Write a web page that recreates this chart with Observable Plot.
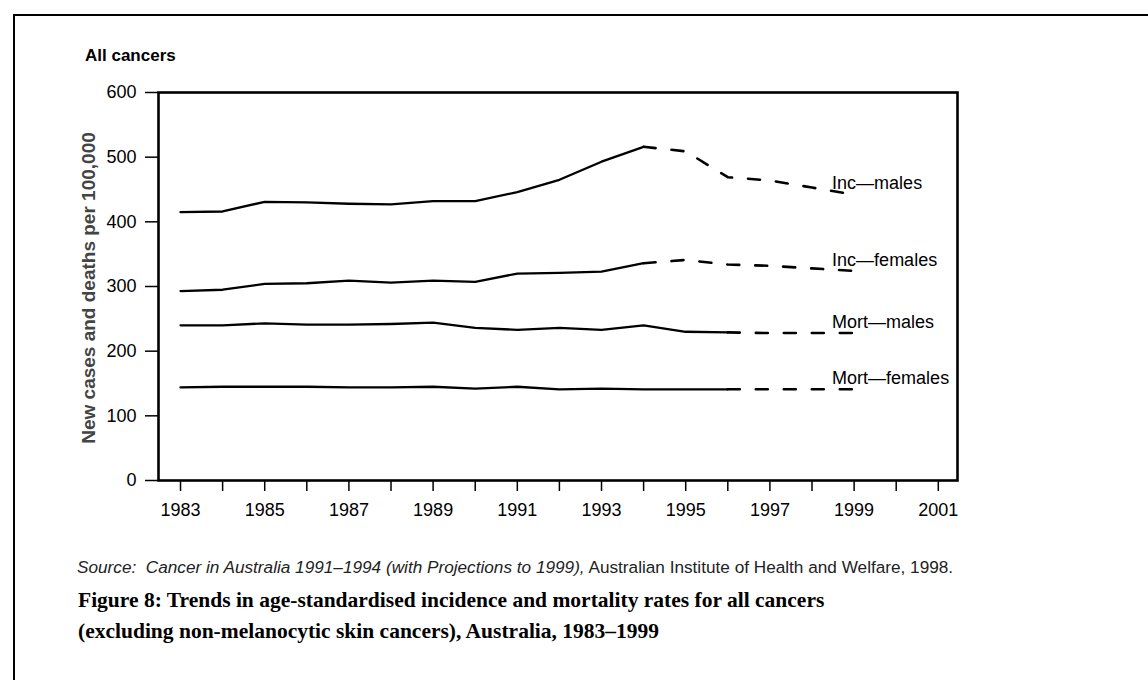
<!DOCTYPE html>
<html>
<head>
<meta charset="utf-8">
<script src="https://cdn.jsdelivr.net/npm/d3@7"></script>
<script src="https://cdn.jsdelivr.net/npm/@observablehq/plot@0.6"></script>
<style>
  body { margin: 0; background: #fff; }
  #wrap { position: relative; width: 1148px; height: 680px; overflow: hidden; background: #fff;
          font-family: "Liberation Sans", Arial, sans-serif; }
  #topline { position: absolute; left: 13px; top: 14px; width: 1135px; border-top: 2px solid #000; }
  #leftline { position: absolute; left: 13px; top: 14px; height: 666px; border-left: 2px solid #000; }
  #chart { position: absolute; left: 0; top: 0; }
  #subtitle { position: absolute; left: 85px; top: 47px; font-size: 17px; font-weight: bold; line-height: 1; color: #000; }
  #ytitle { position: absolute; left: 88px; top: 288px; transform: translate(-50%, -50%) rotate(-90deg);
            white-space: nowrap; font-size: 19px; font-weight: bold; color: #444; line-height: 1; }
  #source { position: absolute; left: 77px; top: 559px; font-size: 17.2px; color: #222; line-height: 1; white-space: nowrap; }
  #caption { position: absolute; left: 78px; top: 585px; width: 900px; font-family: "Liberation Serif", "Times New Roman", serif;
             font-weight: bold; font-size: 21.5px; line-height: 31px; color: #000; }
</style>
</head>
<body>
<div id="wrap">
  <div id="topline"></div>
  <div id="leftline"></div>
  <div id="chart"></div>
  <div id="subtitle">All cancers</div>
  <div id="ytitle">New cases and deaths per 100,000</div>
  <div id="source"><i>Source:&nbsp; Cancer in Australia 1991–1994 (with Projections to 1999),</i> Australian Institute of Health and Welfare, 1998.</div>
  <div id="caption">Figure 8: Trends in age-standardised incidence and mortality rates for all cancers<br>(excluding non-melanocytic skin cancers), Australia, 1983–1999</div>
</div>
<script>
// ---- data ----
const years = [1983,1984,1985,1986,1987,1988,1989,1990,1991,1992,1993,1994,1995,1996,1997,1998,1999];
const incMales    = [415,416,431,430,428,427,432,432,446,465,493,516,509,469,464,453,442];
const incFemales  = [293,295,304,305,309,306,309,307,320,321,323,336,341,334,332,328,324];
const mortMales   = [240,240,243,241,241,242,244,236,233,236,233,240,230,229,228,228,228];
const mortFemales = [144,145,145,145,144,144,145,142,145,141,142,141,141,141,141,141,141];
const seriesNames = ["Inc—males","Inc—females","Mort—males","Mort—females"];
const lastObserved = [1994,1994,1996,1996];
const yTicks = [0,100,200,300,400,500,600];
const xTicks = [1983,1984,1985,1986,1987,1988,1989,1990,1991,1992,1993,1994,1995,1996,1997,1998,1999,2000,2001];

// ---- table ----
const seriesValues = [incMales, incFemales, mortMales, mortFemales];
const rows = [];
seriesNames.forEach((s, i) => {
  years.forEach((yr, j) => rows.push({series: s, year: yr, value: seriesValues[i][j], last: lastObserved[i]}));
});
const observed = rows.filter(d => d.year <= d.last);
const projected = rows.filter(d => d.year >= d.last);
const lastYear = years[years.length - 1];
const ends = rows.filter(d => d.year === lastYear);

const chart = Plot.plot({
  width: 1148,
  height: 530,
  marginLeft: 158,
  marginRight: 191,
  marginTop: 92,
  marginBottom: 50,
  style: {fontFamily: "'Liberation Sans', Arial, sans-serif", fontSize: "18px", color: "#000", background: "transparent"},
  x: {domain: [1982.477, 2001.456]},
  y: {domain: [0, 600]},
  marks: [
    Plot.axisY({ticks: yTicks, tickSize: 13, tickPadding: 9, tickFormat: d => String(d), label: null, strokeWidth: 1.5, fontSize: 18}),
    Plot.axisX({ticks: xTicks, tickSize: 11, tickPadding: 12, tickFormat: d => (d % 2 ? String(d) : ""), label: null, strokeWidth: 1.5, fontSize: 18}),
    Plot.line(observed, {x: "year", y: "value", z: "series", stroke: "#000", strokeWidth: 2.3}),
    Plot.line(projected, {x: "year", y: "value", z: "series", stroke: "#000", strokeWidth: 2.6, strokeDasharray: "12,16"}),
    Plot.text(ends, {x: "year", y: "value", text: "series", dx: -22, dy: -11, textAnchor: "start", fontSize: 18, fill: "#000"}),
    Plot.frame({stroke: "#000", strokeWidth: 2.6})
  ]
});
document.getElementById("chart").appendChild(chart);
</script>
</body>
</html>
